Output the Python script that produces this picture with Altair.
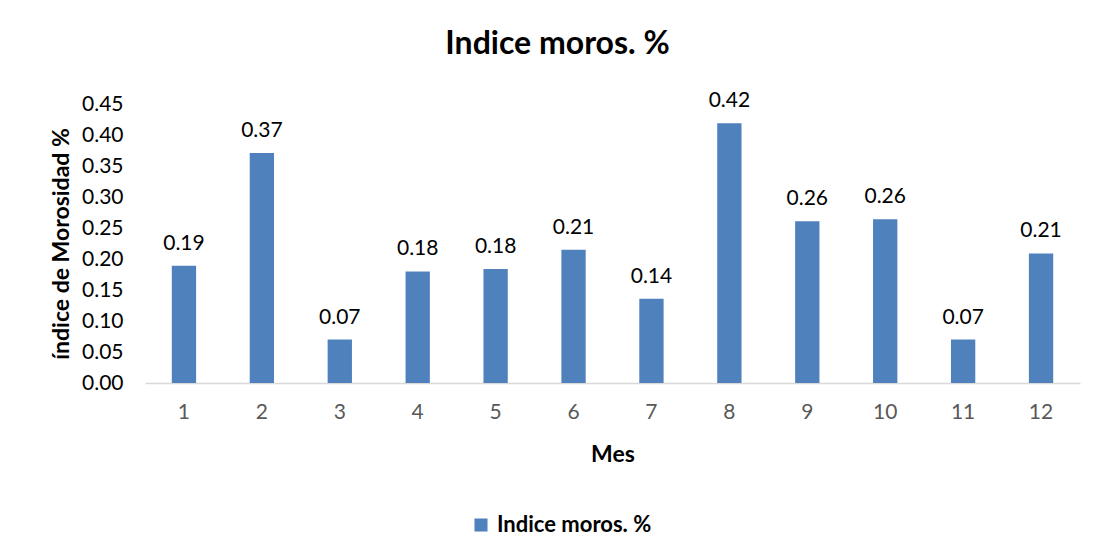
import altair as alt
import pandas as pd

meses = ["1", "2", "3", "4", "5", "6", "7", "8", "9", "10", "11", "12"]
valores = [0.189, 0.371, 0.070, 0.180, 0.184, 0.215, 0.136, 0.419, 0.261, 0.264, 0.070, 0.209]
etiquetas = ["0.19", "0.37", "0.07", "0.18", "0.18", "0.21", "0.14", "0.42", "0.26", "0.26", "0.07", "0.21"]
serie = "Indice moros. %"
y_ticks = [0.00, 0.05, 0.10, 0.15, 0.20, 0.25, 0.30, 0.35, 0.40, 0.45]

df = pd.DataFrame({"Mes": meses, "valor": valores, "etiqueta": etiquetas, "serie": [serie] * len(meses)})

FONT = "Lato"
BLUE = "#4F81BD"

x_enc = alt.X(
    "Mes:N",
    sort=meses,
    scale=alt.Scale(paddingInner=0.688, paddingOuter=0.344),
    axis=alt.Axis(
        title="Mes", labelAngle=0, ticks=False, domainColor="#D9D9D9", domainWidth=1.5,
        labelColor="#595959", labelFontSize=21, labelFont=FONT, labelPadding=18,
        titleFont=FONT, titleFontSize=23, titleFontWeight="bold", titleColor="#000000",
        titlePadding=21, grid=False,
    ),
)

y_enc = alt.Y(
    "valor:Q",
    scale=alt.Scale(domain=[0, 0.45], nice=False),
    axis=alt.Axis(
        title="índice de Morosidad %", values=y_ticks, tickCount=10, format=".2f", ticks=False,
        domain=False, grid=False, labelColor="#000000", labelFontSize=21, labelFont=FONT,
        labelPadding=22, labelOverlap=False, titleFont=FONT, titleFontSize=23,
        titleFontWeight="bold", titleColor="#000000", titlePadding=8,
    ),
)

bars = alt.Chart(df).mark_bar(color=BLUE).encode(
    x=x_enc,
    y=y_enc,
    fill=alt.Fill(
        "serie:N",
        scale=alt.Scale(range=[BLUE]),
        legend=alt.Legend(
            title=None, orient="none", legendX=325, legendY=410, symbolType="square",
            symbolSize=170, symbolStrokeWidth=0, labelFont=FONT, labelFontSize=22,
            labelFontWeight="bold", labelColor="#000000", labelOffset=5,
        ),
    ),
)

labels = alt.Chart(df).mark_text(
    baseline="bottom", dy=-12, fontSize=21, font=FONT, color="#000000"
).encode(
    x=x_enc,
    y=y_enc,
    text="etiqueta:N",
)

chart = alt.layer(bars, labels).properties(
    width=935,
    height=279,
    autosize=alt.AutoSizeParams(type="none"),
    padding={"left": 137, "top": 96, "right": 17, "bottom": 167},
    background="white",
    title=alt.Title(
        serie, font=FONT, fontSize=32, fontWeight="bold", color="#000000",
        anchor="middle", frame="group", dx=-55, offset=29,
    ),
).configure_view(strokeWidth=0, stroke="transparent")

chart.save("out.html", embed_options={"renderer": "svg", "actions": False})
